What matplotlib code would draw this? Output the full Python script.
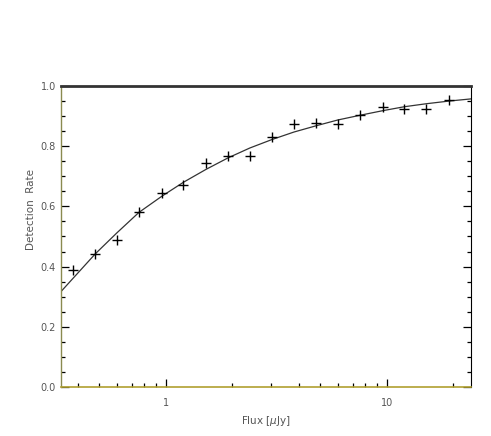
import numpy as np
from matplotlib import pyplot as plt
from matplotlib.ticker import FixedLocator, NullFormatter

# measured detection rate
flux = [0.38, 0.48, 0.60, 0.755, 0.96, 1.20, 1.52, 1.91, 2.40, 3.02,
        3.80, 4.80, 6.00, 7.60, 9.60, 12.0, 15.1, 19.2]
rate = [0.389, 0.441, 0.488, 0.582, 0.644, 0.671, 0.744, 0.767, 0.769, 0.830,
        0.874, 0.876, 0.874, 0.902, 0.930, 0.922, 0.924, 0.952]

# fitted completeness curve
fit_flux = [0.335, 0.48, 0.60, 0.755, 0.96, 1.20, 1.52, 1.91, 2.40, 3.02,
            3.80, 4.80, 6.00, 7.60, 9.60, 12.0, 15.1, 19.2, 24.0]
fit_rate = [0.317, 0.443, 0.512, 0.580, 0.634, 0.680, 0.723, 0.761, 0.794, 0.822,
            0.847, 0.868, 0.887, 0.903, 0.918, 0.931, 0.941, 0.950, 0.957]

txt = '#555555'

fig = plt.figure(figsize=(4.91, 4.36), dpi=100)
ax = fig.add_axes([0.1242, 0.1124, 0.8345, 0.6904])

ax.plot(fit_flux, fit_rate, color='#333333', lw=0.9)
ax.plot(flux, rate, '+', color='black', ms=7, mew=1.0)

ax.set_xscale('log')
ax.set_xlim(0.335, 24.0)
ax.set_ylim(0.0, 1.0)

ax.set_yticks([0.0, 0.2, 0.4, 0.6, 0.8, 1.0])
ax.set_yticklabels(['0.0', '0.2', '0.4', '0.6', '0.8', '1.0'])
ax.yaxis.set_minor_locator(FixedLocator(np.arange(0.05, 1.0, 0.05)))
ax.set_xticks([1, 10])
ax.set_xticklabels(['1', '10'])
ax.xaxis.set_minor_locator(FixedLocator([0.4, 0.5, 0.6, 0.7, 0.8, 0.9,
                                         2, 3, 4, 5, 6, 7, 8, 9, 20]))
ax.xaxis.set_minor_formatter(NullFormatter())

ax.tick_params(which='both', direction='in', colors='black', labelcolor=txt,
               labelsize=7, right=True, top=False, width=0.9)
ax.tick_params(which='major', length=6)
ax.tick_params(which='minor', length=3)
ax.tick_params(axis='x', pad=8)

ax.spines['left'].set_color('#8a8a50')
ax.spines['bottom'].set_color('#b0a030')
ax.spines['right'].set_color('black')
ax.spines['top'].set_color('#333333')
ax.spines['top'].set_linewidth(2.0)
ax.spines['left'].set_linewidth(1.0)
ax.spines['bottom'].set_linewidth(1.2)

ax.set_xlabel('Flux [$\\mu$Jy]', fontsize=7.5, color=txt, labelpad=4)
ax.set_ylabel('Detection  Rate', fontsize=7.5, color=txt)
ax.yaxis.set_label_coords(-0.062, 0.588)

fig.savefig('out.png', dpi=100)
